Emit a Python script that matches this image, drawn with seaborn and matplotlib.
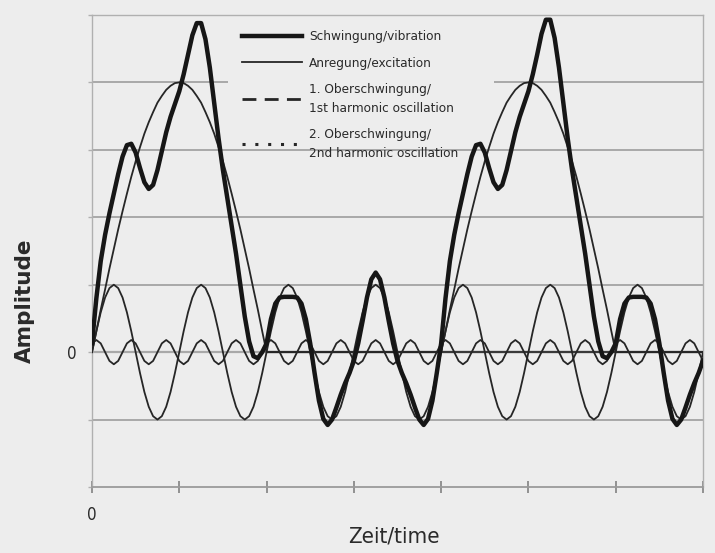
import numpy as np
import pandas as pd
import matplotlib
matplotlib.use("Agg")
import matplotlib.pyplot as plt
from matplotlib.lines import Line2D
from matplotlib import font_manager as fm
import seaborn as sns

# ---------------- data ----------------
# sampling positions along the time axis (degrees of the excitation period)
theta = np.arange(0, 631, 4.5)

vibration = [
    0.13, 0.80, 1.35, 1.74, 2.06, 2.35, 2.64, 2.90, 3.07, 3.09,
    2.96, 2.73, 2.52, 2.42, 2.48, 2.70, 2.98, 3.26, 3.49, 3.68,
    3.87, 4.12, 4.41, 4.70, 4.88, 4.88, 4.64, 4.22, 3.70, 3.17,
    2.70, 2.29, 1.89, 1.46, 1.00, 0.53, 0.16, -0.06, -0.09, 0.00,
    0.13, 0.49, 0.72, 0.81, 0.82, 0.82, 0.82, 0.81, 0.72, 0.49,
    0.13, -0.31, -0.72, -0.99, -1.08, -1.00, -0.82, -0.63, -0.46, -0.31,
    -0.13, 0.13, 0.46, 0.81, 1.08, 1.18, 1.08, 0.81, 0.46, 0.13,
    -0.13, -0.31, -0.46, -0.63, -0.82, -1.00, -1.08, -0.99, -0.72, -0.31,
    0.13, 0.80, 1.35, 1.74, 2.06, 2.35, 2.64, 2.90, 3.07, 3.09,
    2.96, 2.73, 2.52, 2.42, 2.48, 2.70, 2.98, 3.26, 3.49, 3.68,
    3.87, 4.12, 4.41, 4.72, 4.93, 4.93, 4.66, 4.22, 3.70, 3.17,
    2.70, 2.29, 1.89, 1.46, 1.00, 0.53, 0.16, -0.06, -0.09, 0.00,
    0.13, 0.49, 0.72, 0.81, 0.82, 0.82, 0.82, 0.81, 0.72, 0.49,
    0.13, -0.31, -0.72, -0.99, -1.08, -1.00, -0.82, -0.63, -0.46, -0.31,
    -0.13,
]

excitation = [
    0.00, 0.31, 0.63, 0.93, 1.24, 1.53, 1.82, 2.09, 2.35, 2.60,
    2.83, 3.04, 3.24, 3.41, 3.56, 3.70, 3.80, 3.89, 3.95, 3.99,
    4.00, 3.99, 3.95, 3.89, 3.80, 3.70, 3.56, 3.41, 3.24, 3.04,
    2.83, 2.60, 2.35, 2.09, 1.82, 1.53, 1.24, 0.93, 0.63, 0.31,
    0.00, 0.00, 0.00, 0.00, 0.00, 0.00, 0.00, 0.00, 0.00, 0.00,
    0.00, 0.00, 0.00, 0.00, 0.00, 0.00, 0.00, 0.00, 0.00, 0.00,
    0.00, 0.00, 0.00, 0.00, 0.00, 0.00, 0.00, 0.00, 0.00, 0.00,
    0.00, 0.00, 0.00, 0.00, 0.00, 0.00, 0.00, 0.00, 0.00, 0.00,
    0.00, 0.31, 0.63, 0.93, 1.24, 1.53, 1.82, 2.09, 2.35, 2.60,
    2.83, 3.04, 3.24, 3.41, 3.56, 3.70, 3.80, 3.89, 3.95, 3.99,
    4.00, 3.99, 3.95, 3.89, 3.80, 3.70, 3.56, 3.41, 3.24, 3.04,
    2.83, 2.60, 2.35, 2.09, 1.82, 1.53, 1.24, 0.93, 0.63, 0.31,
    0.00, 0.00, 0.00, 0.00, 0.00, 0.00, 0.00, 0.00, 0.00, 0.00,
    0.00, 0.00, 0.00, 0.00, 0.00, 0.00, 0.00, 0.00, 0.00, 0.00,
    0.00,
]

harmonic1 = [
    0.00, 0.31, 0.59, 0.81, 0.95, 1.00, 0.95, 0.81, 0.59, 0.31,
    0.00, -0.31, -0.59, -0.81, -0.95, -1.00, -0.95, -0.81, -0.59, -0.31,
    0.00, 0.31, 0.59, 0.81, 0.95, 1.00, 0.95, 0.81, 0.59, 0.31,
    0.00, -0.31, -0.59, -0.81, -0.95, -1.00, -0.95, -0.81, -0.59, -0.31,
    0.00, 0.31, 0.59, 0.81, 0.95, 1.00, 0.95, 0.81, 0.59, 0.31,
    0.00, -0.31, -0.59, -0.81, -0.95, -1.00, -0.95, -0.81, -0.59, -0.31,
    0.00, 0.31, 0.59, 0.81, 0.95, 1.00, 0.95, 0.81, 0.59, 0.31,
    0.00, -0.31, -0.59, -0.81, -0.95, -1.00, -0.95, -0.81, -0.59, -0.31,
    0.00, 0.31, 0.59, 0.81, 0.95, 1.00, 0.95, 0.81, 0.59, 0.31,
    0.00, -0.31, -0.59, -0.81, -0.95, -1.00, -0.95, -0.81, -0.59, -0.31,
    0.00, 0.31, 0.59, 0.81, 0.95, 1.00, 0.95, 0.81, 0.59, 0.31,
    0.00, -0.31, -0.59, -0.81, -0.95, -1.00, -0.95, -0.81, -0.59, -0.31,
    0.00, 0.31, 0.59, 0.81, 0.95, 1.00, 0.95, 0.81, 0.59, 0.31,
    0.00, -0.31, -0.59, -0.81, -0.95, -1.00, -0.95, -0.81, -0.59, -0.31,
    0.00,
]

harmonic2 = [
    0.13, 0.18, 0.13, 0.00, -0.13, -0.18, -0.13, 0.00,
    0.13, 0.18, 0.13, 0.00, -0.13, -0.18, -0.13, 0.00,
    0.13, 0.18, 0.13, 0.00, -0.13, -0.18, -0.13, 0.00,
    0.13, 0.18, 0.13, 0.00, -0.13, -0.18, -0.13, 0.00,
    0.13, 0.18, 0.13, 0.00, -0.13, -0.18, -0.13, 0.00,
    0.13, 0.18, 0.13, 0.00, -0.13, -0.18, -0.13, 0.00,
    0.13, 0.18, 0.13, 0.00, -0.13, -0.18, -0.13, 0.00,
    0.13, 0.18, 0.13, 0.00, -0.13, -0.18, -0.13, 0.00,
    0.13, 0.18, 0.13, 0.00, -0.13, -0.18, -0.13, 0.00,
    0.13, 0.18, 0.13, 0.00, -0.13, -0.18, -0.13, 0.00,
    0.13, 0.18, 0.13, 0.00, -0.13, -0.18, -0.13, 0.00,
    0.13, 0.18, 0.13, 0.00, -0.13, -0.18, -0.13, 0.00,
    0.13, 0.18, 0.13, 0.00, -0.13, -0.18, -0.13, 0.00,
    0.13, 0.18, 0.13, 0.00, -0.13, -0.18, -0.13, 0.00,
    0.13, 0.18, 0.13, 0.00, -0.13, -0.18, -0.13, 0.00,
    0.13, 0.18, 0.13, 0.00, -0.13, -0.18, -0.13, 0.00,
    0.13, 0.18, 0.13, 0.00, -0.13, -0.18, -0.13, 0.00,
    0.13, 0.18, 0.13, 0.00, -0.13,
]

series_labels = [
    "Schwingung/vibration",
    "Anregung/excitation",
    "1. Oberschwingung/\n1st harmonic oscillation",
    "2. Oberschwingung/\n2nd harmonic oscillation",
]
x_ticks = [0, 90, 180, 270, 360, 450, 540, 630]
x_ticklabels = ["0", "", "", "", "", "", "", ""]
y_ticks = [-2, -1, 0, 1, 2, 3, 4, 5]
y_ticklabels = ["", "", "0", "", "", "", "", ""]

# ---------------- fonts: look for a narrow face ----------------
narrow_path = None
scale = 1.0
for f in fm.fontManager.ttflist:
    if "Narrow" in f.name and "Liberation" in f.name and "Bold" not in f.fname \
            and "Italic" not in f.fname:
        narrow_path = f.fname
        break
if narrow_path is None:
    for f in fm.fontManager.ttflist:
        if "DejaVuSansCondensed.ttf" in f.fname:
            narrow_path = f.fname
            scale = 0.97
            break
if narrow_path is None:
    for f in fm.fontManager.ttflist:
        fn = f.fname.lower()
        if ("condensed" in fn or "narrow" in fn) and "bold" not in fn \
                and "italic" not in fn and "mono" not in fn and "serif" not in fn:
            narrow_path = f.fname
            break


def nfont(size):
    if narrow_path is not None:
        return fm.FontProperties(fname=narrow_path, size=size * scale)
    return fm.FontProperties(family="DejaVu Sans", size=size * 0.8)


# ---------------- style ----------------
BG = "#ededed"
GRID = "#a9a9a9"
INK = "#161616"
THIN = "#262626"
TEXT = "#2a2a2a"
plt.rcParams["font.family"] = ["DejaVu Sans"]

fig = plt.figure(figsize=(7.15, 5.53), dpi=100, facecolor=BG)
ax = fig.add_axes([92 / 715, 1 - 487 / 553, (703 - 92) / 715, (487 - 15) / 553])
ax.set_facecolor(BG)
ax.set_xlim(0, 630)
ax.set_ylim(-2, 5)

# horizontal grid lines (the one at 4 is interrupted by the legend area)
for v in [-1, 1, 2, 3]:
    ax.hlines(v, 0, 630, color=GRID, lw=1.4, zorder=1)
ax.hlines(4, 0, 140, color=GRID, lw=1.4, zorder=1)
ax.hlines(4, 415, 630, color=GRID, lw=1.4, zorder=1)
ax.hlines(0, 0, 630, color=GRID, lw=1.6, zorder=1)
ax.hlines(0, 180, 630, color="#3a3a3a", lw=1.6, zorder=1.5)

df = pd.DataFrame({
    "theta": theta,
    "vibration": vibration,
    "excitation": excitation,
    "harmonic1": harmonic1,
    "harmonic2": harmonic2,
})

sns.lineplot(data=df, x="theta", y="harmonic2", ax=ax, color=THIN, lw=1.3,
             legend=False, sort=False, zorder=3)
sns.lineplot(data=df, x="theta", y="harmonic1", ax=ax, color=THIN, lw=1.3,
             legend=False, sort=False, zorder=3)
sns.lineplot(data=df, x="theta", y="excitation", ax=ax, color=THIN, lw=1.3,
             legend=False, sort=False, zorder=3)
sns.lineplot(data=df, x="theta", y="vibration", ax=ax, color=INK, lw=3.2,
             legend=False, sort=False, zorder=4)

# spines & ticks
for side in ["left", "top", "right"]:
    ax.spines[side].set_color("#b0b0b0")
    ax.spines[side].set_linewidth(1.0)
ax.spines["bottom"].set_color("#9a9a9a")
ax.spines["bottom"].set_linewidth(1.3)

ax.set_xticks(x_ticks)
ax.set_xticklabels(x_ticklabels, fontproperties=nfont(12.5))
ax.set_yticks(y_ticks)
ax.set_yticklabels(y_ticklabels, fontproperties=nfont(12.5))
ax.tick_params(axis="x", direction="inout", length=8, width=1.3, color="#8a8a8a",
               pad=10, labelcolor=TEXT)
ax.tick_params(axis="y", direction="out", length=3, width=1.0, color="#b0b0b0",
               pad=8, labelcolor=TEXT)

ax.set_xlabel("Zeit/time", fontproperties=nfont(16.5), color=TEXT)
ax.xaxis.set_label_coords(0.494, -0.083)
ax.set_ylabel("Amplitude", fontsize=15.5, fontweight="bold", color=TEXT,
              family=["DejaVu Sans"])
ax.yaxis.set_label_coords(-0.093, 0.394)

handles = [
    Line2D([], [], color=INK, lw=3.2),
    Line2D([], [], color=THIN, lw=1.3),
    Line2D([], [], color=THIN, lw=2.0, ls=(0, (5, 3))),
    Line2D([], [], color=THIN, lw=2.2, ls=(0, (1, 3.2))),
]
leg = ax.legend(handles, series_labels, loc="upper left",
                bbox_to_anchor=(0.236, 0.979), frameon=False, prop=nfont(10),
                handlelength=4.5, handletextpad=0.5, labelspacing=1.0,
                borderpad=0.4, borderaxespad=0)
for t in leg.get_texts():
    t.set_color(TEXT)
    t.set_linespacing(1.55)

fig.savefig("out.png", dpi=100, facecolor=BG)
